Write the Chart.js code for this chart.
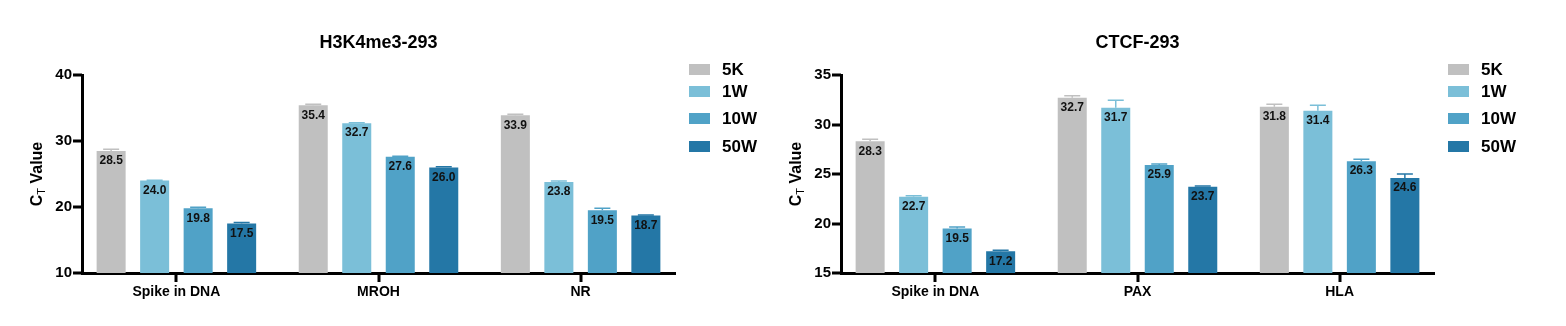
<!DOCTYPE html>
<html>
<head>
<meta charset="utf-8">
<script src="https://cdn.jsdelivr.net/npm/chart.js@4"></script>
<style>
  body { margin: 0; background: #fff; }
  .row { display: flex; width: 1566px; height: 326px; }
  canvas { display: block; }
</style>
</head>
<body>
<div class="row">
  <canvas id="h3k4Chart" width="783" height="326"></canvas>
  <canvas id="ctcfChart" width="783" height="326"></canvas>
</div>
<script>
// series shared by both panels
const seriesNames = ['5K', '1W', '10W', '50W'];
const seriesColors = ['#c0c0c0', '#7bbfd8', '#50a2c7', '#2477a6'];

// H3K4me3-293
const h3k4Categories = ['Spike in DNA', 'MROH', 'NR'];
const h3k4_5K = [28.5, 35.4, 33.9];
const h3k4_1W = [24.0, 32.7, 23.8];
const h3k4_10W = [19.8, 27.6, 19.5];
const h3k4_50W = [17.5, 26.0, 18.7];
const h3k4Err_5K = [0.25, 0.15, 0.15];
const h3k4Err_1W = [0.05, 0.05, 0.15];
const h3k4Err_10W = [0.15, 0.1, 0.3];
const h3k4Err_50W = [0.15, 0.1, 0.1];
const h3k4YTicks = [10, 20, 30, 40];

// CTCF-293
const ctcfCategories = ['Spike in DNA', 'PAX', 'HLA'];
const ctcf_5K = [28.3, 32.7, 31.8];
const ctcf_1W = [22.7, 31.7, 31.4];
const ctcf_10W = [19.5, 25.9, 26.3];
const ctcf_50W = [17.2, 23.7, 24.6];
const ctcfErr_5K = [0.2, 0.2, 0.25];
const ctcfErr_1W = [0.1, 0.75, 0.55];
const ctcfErr_10W = [0.15, 0.1, 0.2];
const ctcfErr_50W = [0.1, 0.1, 0.4];
const ctcfYTicks = [15, 20, 25, 30, 35];

const FONT = 'Arial, "Liberation Sans", sans-serif';

// error bars + value labels drawn on top of the bars
const barExtras = {
    id: 'barExtras',
    afterDatasetsDraw(chart) {
        const ctx = chart.ctx;
        const y = chart.scales.y;
        ctx.save();
        chart.data.datasets.forEach((ds, di) => {
            const meta = chart.getDatasetMeta(di);
            meta.data.forEach((bar, i) => {
                const v = ds.data[i].y;
                const e = ds.errors[i];
                const top = y.getPixelForValue(v + e);
                ctx.strokeStyle = ds.backgroundColor;
                ctx.lineWidth = 1.5;
                ctx.beginPath();
                ctx.moveTo(bar.x, bar.y);
                ctx.lineTo(bar.x, top);
                ctx.moveTo(bar.x - 8, top);
                ctx.lineTo(bar.x + 8, top);
                ctx.stroke();

                ctx.fillStyle = '#111';
                ctx.font = 'bold 12px ' + FONT;
                ctx.textAlign = 'center';
                ctx.textBaseline = 'middle';
                ctx.fillText(v.toFixed(1), bar.x, bar.y + 10);
            });
        });
        ctx.restore();
    }
};

// legend to the right of the plot, the C_T axis title, and axis tick marks
const sideText = {
    id: 'sideText',
    afterDraw(chart, args, opts) {
        const ctx = chart.ctx;
        const area = chart.chartArea;
        const xs = chart.scales.x;
        const ys = chart.scales.y;
        ctx.save();

        ctx.fillStyle = '#000';
        opts.categories.forEach((c, i) => {
            const px = Math.round(xs.getPixelForValue(i));
            ctx.fillRect(px - 1.5, area.bottom, 3, 9);
        });
        opts.yTicks.forEach(v => {
            const py = Math.round(ys.getPixelForValue(v));
            ctx.fillRect(area.left - 9, py - 1.5, 9, 3);
        });

        const rows = [-6, 16, 43, 71];
        chart.data.datasets.forEach((ds, i) => {
            const yy = area.top + rows[i];
            ctx.fillStyle = ds.backgroundColor;
            ctx.fillRect(area.right + 14, yy - 5, 21, 11);
            ctx.fillStyle = '#000';
            ctx.font = 'bold 17px ' + FONT;
            ctx.textAlign = 'left';
            ctx.textBaseline = 'middle';
            ctx.fillText(ds.label, area.right + 47, yy + 1);
        });

        // rotated y title with subscript T
        const cy = (area.top + area.bottom) / 2;
        ctx.translate(opts.titleX, cy);
        ctx.rotate(-Math.PI / 2);
        ctx.fillStyle = '#000';
        ctx.textBaseline = 'alphabetic';
        ctx.textAlign = 'left';
        const big = 'bold 16px ' + FONT;
        const small = '11px ' + FONT;
        ctx.font = big;
        const wC = ctx.measureText('C').width;
        const wV = ctx.measureText(' Value').width;
        ctx.font = small;
        const wT = ctx.measureText('T').width;
        let x = -(wC + wT + wV) / 2;
        const base = 6;
        ctx.font = big;
        ctx.fillText('C', x, base);
        x += wC;
        ctx.font = small;
        ctx.fillText('T', x, base + 3);
        x += wT;
        ctx.font = big;
        ctx.fillText(' Value', x, base);
        ctx.restore();
    }
};

function makeChart(id, title, categories, values, errors, yTicks, yWidth, padRight, titleX) {
    const datasets = seriesNames.map((name, s) => ({
        label: name,
        data: values[s].map((v, i) => ({ x: i, y: v })),
        errors: errors[s],
        backgroundColor: seriesColors[s],
        borderWidth: 0,
        categoryPercentage: 0.861,
        barPercentage: 0.667
    }));
    new Chart(document.getElementById(id).getContext('2d'), {
        type: 'bar',
        data: { datasets: datasets },
        plugins: [barExtras, sideText],
        options: {
            responsive: false,
            animation: false,
            layout: { padding: { left: 0, right: padRight, top: 0, bottom: 0 } },
            plugins: {
                legend: { display: false },
                tooltip: { enabled: false },
                title: {
                    display: true,
                    text: title,
                    fullSize: false,
                    color: '#000',
                    font: { family: FONT, size: 18, weight: 'bold' },
                    padding: { top: 32, bottom: 21.4 }
                },
                sideText: { titleX: titleX, categories: categories, yTicks: yTicks }
            },
            scales: {
                x: {
                    type: 'linear',
                    offset: false,
                    min: -0.467,
                    max: categories.length - 1 + 0.467,
                    afterBuildTicks: s => { s.ticks = categories.map((c, i) => ({ value: i })); },
                    afterFit: s => { s.height = 53; },
                    grid: { display: false, offset: false, drawOnChartArea: false, tickLength: 8 },
                    border: { display: true, color: '#000', width: 3 },
                    ticks: {
                        callback: v => categories[v] ?? '',
                        color: '#000',
                        padding: 3,
                        maxRotation: 0,
                        font: { family: FONT, size: 14, weight: 'bold' }
                    }
                },
                y: {
                    min: yTicks[0],
                    max: yTicks[yTicks.length - 1],
                    afterBuildTicks: s => { s.ticks = yTicks.map(v => ({ value: v })); },
                    afterFit: s => { s.width = yWidth; },
                    grid: { display: false, drawOnChartArea: false, tickLength: 8 },
                    border: { display: true, color: '#000', width: 3 },
                    ticks: {
                        color: '#000',
                        padding: 2,
                        font: { family: FONT, size: 15, weight: 'bold' }
                    }
                }
            }
        }
    });
}

makeChart('h3k4Chart', 'H3K4me3-293', h3k4Categories,
    [h3k4_5K, h3k4_1W, h3k4_10W, h3k4_50W],
    [h3k4Err_5K, h3k4Err_1W, h3k4Err_10W, h3k4Err_50W],
    h3k4YTicks, 82, 108, 36);

makeChart('ctcfChart', 'CTCF-293', ctcfCategories,
    [ctcf_5K, ctcf_1W, ctcf_10W, ctcf_50W],
    [ctcfErr_5K, ctcfErr_1W, ctcfErr_10W, ctcfErr_50W],
    ctcfYTicks, 58, 132, 12);
</script>
</body>
</html>
